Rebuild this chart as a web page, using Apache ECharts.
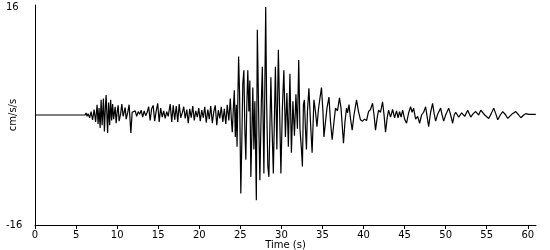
<!DOCTYPE html>
<html>
<head>
<meta charset="utf-8">
<script src="https://cdn.jsdelivr.net/npm/echarts@6/dist/echarts.min.js"></script>
<style>html,body{margin:0;padding:0;background:#fff}#c{width:550px;height:250px}</style>
</head>
<body>
<div id="c"></div>
<script>
// Time (s) of each read point
const times = [0,6.1,6.22,6.34,6.46,6.65,6.83,7.01,7.2,7.38,7.56,7.68,7.8,7.93,8.05,8.17,8.33,8.45,8.57,8.66,8.84,8.96,9.09,9.21,9.33,9.45,9.57,9.76,9.88,10.0,10.12,10.24,10.43,10.57,10.73,10.85,10.98,11.1,11.28,11.46,11.67,11.83,12.01,12.2,12.38,12.56,12.74,12.93,13.11,13.29,13.48,13.66,13.84,14.02,14.2,14.39,14.57,14.76,14.94,15.12,15.3,15.49,15.67,15.85,16.04,16.22,16.46,16.65,16.83,17.01,17.2,17.38,17.56,17.74,17.93,18.11,18.29,18.48,18.66,18.84,19.02,19.21,19.39,19.57,19.76,19.94,20.12,20.3,20.49,20.67,20.85,21.04,21.22,21.4,21.59,21.77,21.95,22.13,22.32,22.5,22.68,22.87,23.05,23.23,23.41,23.6,23.78,23.9,24.02,24.15,24.27,24.39,24.51,24.6,24.79,24.91,25.06,25.18,25.3,25.43,25.55,25.67,25.79,25.91,26.04,26.16,26.28,26.4,26.52,26.65,26.77,26.95,27.07,27.26,27.38,27.56,27.68,27.87,28.09,28.2,28.35,28.48,28.72,28.84,29.02,29.27,29.45,29.63,29.76,29.94,30.12,30.3,30.49,30.67,30.85,31.04,31.22,31.4,31.59,31.77,31.95,32.11,32.26,32.44,32.56,32.68,32.8,32.93,33.05,33.17,33.35,33.54,33.74,33.96,34.15,34.33,34.51,34.7,34.88,35.06,35.18,35.37,35.55,35.79,35.98,36.18,36.4,36.59,36.83,37.07,37.26,37.56,37.74,37.93,38.05,38.23,38.41,38.62,38.84,39.15,39.39,39.63,39.88,40.12,40.37,40.61,40.85,41.1,41.28,41.46,41.65,41.83,42.07,42.32,42.5,42.68,42.87,43.05,43.29,43.54,43.78,44.02,44.21,44.39,44.57,44.76,45.0,45.24,45.49,45.73,45.91,46.1,46.34,46.59,46.83,47.07,47.32,47.56,47.74,47.93,48.17,48.41,48.6,48.78,49.02,49.39,49.57,49.76,50.0,50.37,50.61,50.85,51.04,51.22,51.59,51.95,52.32,52.68,53.05,53.35,53.66,54.02,54.27,54.76,55.24,55.55,55.85,56.1,56.34,56.65,56.95,57.32,57.56,58.05,58.54,58.9,59.15,59.51,59.76,60.12,60.98];
// Acceleration (cm/s/s) read at each time
const accel = [0,0,0.3,-0.2,0.2,-0.4,0.5,-0.7,0.8,-1.0,1.5,-1.3,1.0,-1.9,2.2,-1.5,2.4,-2.4,1.2,2.9,-2.6,1.8,-1.5,2.2,-0.8,1.6,-0.6,1.2,-1.2,0.4,1.4,-0.9,0.2,1.6,-0.2,0.4,1.1,-0.6,0.3,1.5,-2.6,0.4,0.2,0.6,-0.2,0.5,0.1,0.7,-0.3,0.6,-0.1,0.4,1.2,-0.8,0.9,1.4,-0.9,0.6,1.7,-1.0,1.0,-0.3,0.6,-0.5,0.5,-0.2,1.6,-1.0,1.4,-0.7,1.3,-1.0,1.6,-0.4,0.3,1.2,-0.5,0.8,-1.2,0.9,-0.4,1.3,-0.8,0.6,-0.3,1.0,-0.9,0.7,-0.4,1.2,-1.1,0.8,-0.6,1.3,-1.2,0.5,1.4,-1.5,0.7,-0.5,1.2,-1.0,0.9,-1.3,1.5,-0.8,2.4,-0.5,-2.5,1.0,3.6,-3.2,1.5,-4.6,8.5,3.0,-11.4,-4.0,4.5,6.5,-2.0,-6.5,1.5,6.5,0.5,5.0,-9.0,-3.0,4.0,-5.0,2.0,-12.4,12.4,-2.0,-9.5,2.0,7.0,-8.5,15.7,2.0,-7.5,-9.0,5.5,-1.0,-8.5,7.0,-5.0,9.5,2.0,-8.5,1.0,6.5,-3.2,3.2,-4.6,6.0,-5.5,2.0,-3.0,3.0,-2.0,8.0,-2.0,-5.0,-7.5,1.5,2.2,-2.0,-5.0,0.5,3.9,-1.0,-5.5,2.2,0.5,-1.7,0.8,2.5,4.0,0.5,-3.2,-1.0,1.0,2.6,-1.0,-3.6,-1.0,1.0,0.6,2.5,1.0,-4.1,-1.0,1.0,0.3,1.5,-0.5,-2.2,0.0,2.2,0.5,-0.7,-0.9,-0.6,-0.8,0.5,0.8,1.7,0.0,-2.2,-0.5,0.7,0.4,1.9,0.0,-2.5,-0.5,0.7,-0.3,0.8,-0.4,0.6,-0.4,0.5,-0.3,0.7,-0.6,-1.2,0.3,1.2,0.4,1.0,-0.6,-0.2,-1.2,0.0,0.4,1.2,-0.2,-1.7,0.4,1.7,0.2,-0.9,0.1,1.0,0.0,-0.9,0.0,1.0,0.0,-1.2,0.0,0.4,-0.3,0.3,-0.2,0.7,-0.3,0.2,0.5,0.0,0.7,0.0,-0.5,0.2,1.0,0.2,-0.7,0.0,0.5,0.0,-0.5,0.1,0.5,0.0,-0.4,0.0,0.2,0.1,0.1];
const xTicks = [0,5,10,15,20,25,30,35,40,45,50,55,60];
const yTicks = [-16,16];

const chart = echarts.init(document.getElementById('c'), null, {renderer:'canvas'});
const font = 'DejaVu Sans';
chart.setOption({
  animation:false,
  grid:{left:35, right:14, top:5, bottom:25, outerBoundsMode:'none'},
  xAxis:{
    type:'value', min:0, max:61, interval:5,
    name:'Time (s)', nameLocation:'middle', nameGap:15, nameMoveOverlap:false,
    nameTextStyle:{color:'#000', fontFamily:font, fontSize:10},
    axisLine:{show:true, onZero:false, lineStyle:{color:'#000', width:1}},
    axisTick:{show:true, length:4, lineStyle:{color:'#000'}, customValues:xTicks},
    axisLabel:{color:'#000', fontFamily:font, fontSize:10, margin:5, customValues:xTicks},
    splitLine:{show:false}
  },
  yAxis:{
    type:'value', min:-16, max:16, interval:32,
    name:'cm/s/s', nameLocation:'middle', nameGap:17, nameRotate:90, nameMoveOverlap:false,
    nameTextStyle:{color:'#000', fontFamily:font, fontSize:10},
    axisLine:{show:true, onZero:false, lineStyle:{color:'#000', width:1}},
    axisTick:{show:false},
    axisLabel:{color:'#000', fontFamily:font, fontSize:10, margin:29, align:'left', customValues:yTicks,
      formatter:v=>v>0?'{t|'+v+'}':String(v),
      rich:{t:{color:'#000', fontFamily:font, fontSize:10, padding:[5,0,0,0]}}},
    splitLine:{show:false}
  },
  series:[{
    type:'line', data:times.map((t,i)=>[t,accel[i]]),
    showSymbol:false, symbol:'none',
    lineStyle:{color:'#000', width:1.2}, silent:true
  }]
});
</script>
</body>
</html>
